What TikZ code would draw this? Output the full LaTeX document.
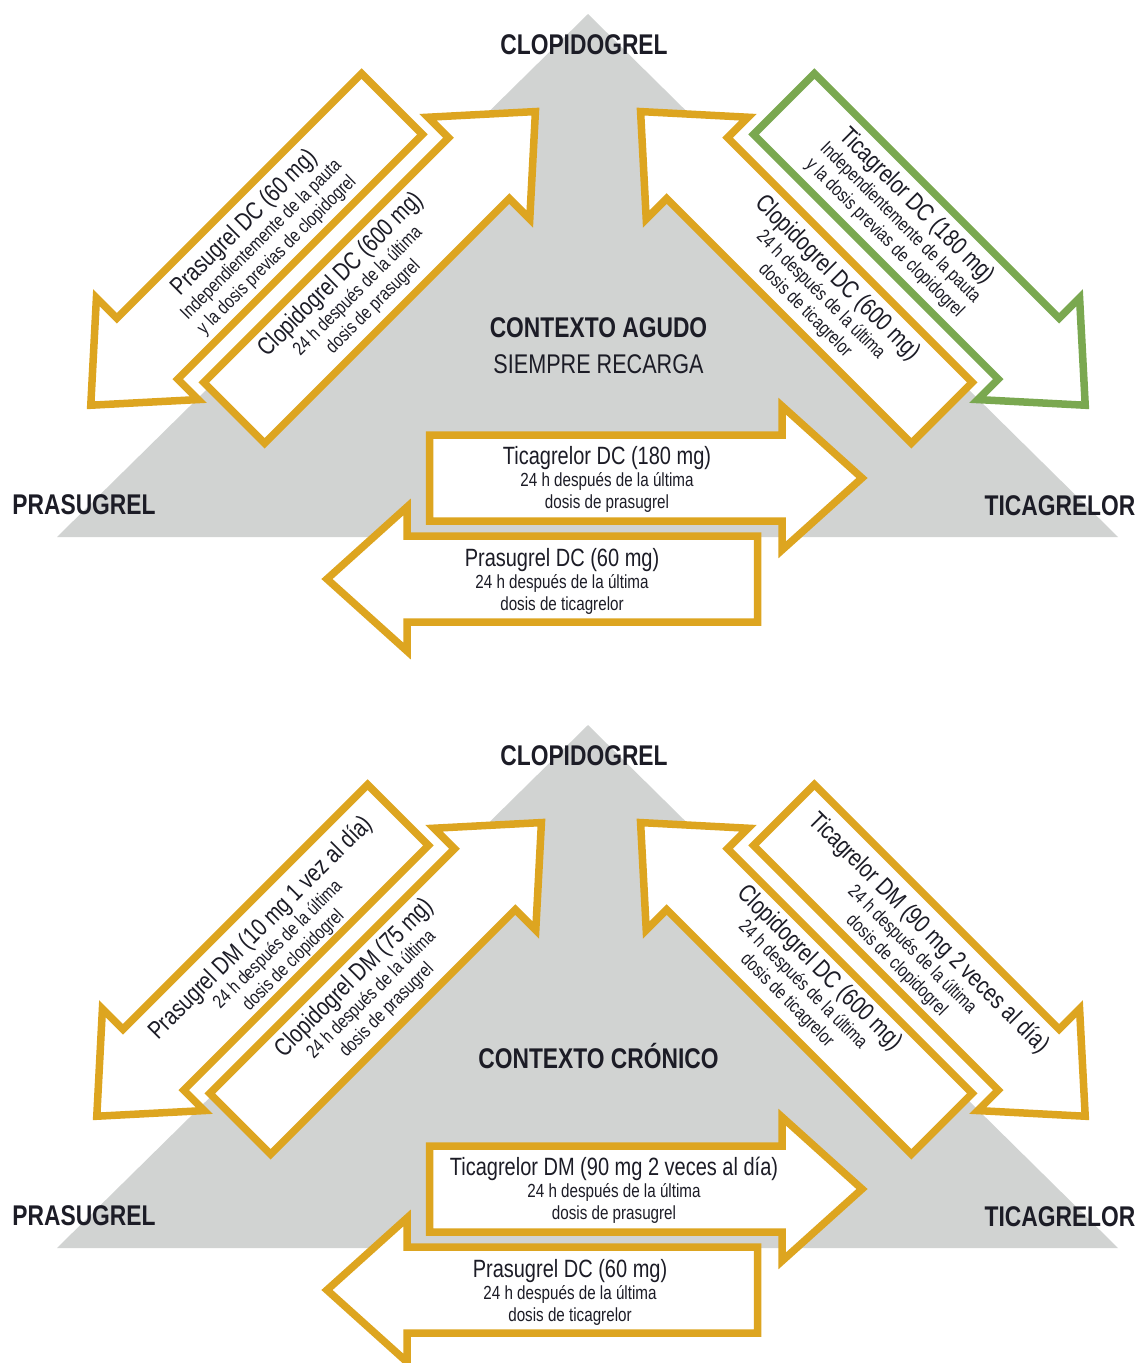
\documentclass[tikz,border=0pt]{standalone}
\usepackage{fontspec}
\setmainfont{Liberation Sans}[FakeStretch=0.8]
\usetikzlibrary{positioning}

\definecolor{gold}{RGB}{221,165,32}
\definecolor{leaf}{RGB}{122,168,80}
\definecolor{ash}{RGB}{209,211,210}
\definecolor{ink}{RGB}{28,28,38}

% block arrow: [colour]{tail}{angle}{length}
\newcommand{\blockarrow}[4][gold]{%
  \begin{scope}[shift={(#2)}, rotate=#3]
    \draw[line width=7.5pt, draw=#1, fill=white]
      (0,-43) -- (#4-80,-43) -- (#4-80,-72) -- (#4,0) -- (#4-80,72) -- (#4-80,43) -- (0,43) -- cycle;
  \end{scope}}
\newcommand{\firstline}[1]{{\fontsize{25}{26}\selectfont #1}}

\begin{document}
\begin{tikzpicture}[
    x=1pt, y=-1pt,
    corner/.style={font=\bfseries\fontsize{28.5}{30}\selectfont, text=ink, anchor=base, inner sep=0pt},
    context/.style={font=\fontsize{27}{30}\selectfont, text=ink, anchor=base, inner sep=0pt},
    dose/.style={font=\fontsize{19}{22}\selectfont, text=ink, align=center, inner sep=0pt}
]
\useasboundingbox (0,0) rectangle (1141,1363);

% acute context
\fill[ash] (588,14) -- (57,537) -- (1118,537) -- cycle;
\blockarrow{392,104}{225}{426}
\blockarrow{234.2,412.8}{45}{426}
\blockarrow[leaf]{784,104}{-45}{426}
\blockarrow{941.8,412.8}{135}{426}
\blockarrow{429.5,478}{0}{432.5}
\blockarrow{757.5,579}{180}{430.5}

\node[corner] (clopiA) at (584,54) {CLOPIDOGREL};
\node[corner] (prasA) at (84,514) {PRASUGREL};
\node[corner] (ticaA) at (1060,515) {TICAGRELOR};
\node[corner] (agudo) at (598.5,337) {CONTEXTO AGUDO};
\node[context] (recarga) at (598.5,373) {SIEMPRE RECARGA};

\node[dose, rotate=45] (pcA) at (260,238.5) {\firstline{Prasugrel DC (60 mg)}\\Independientemente de la pauta\\y la dosis previas de clopidogrel};
\node[dose, rotate=45] (cpA) at (356.5,290) {\firstline{Clopidogrel DC (600 mg)}\\24 h después de la última\\dosis de prasugrel};
\node[dose, rotate=-45] (tcA) at (901.5,221.5) {\firstline{Ticagrelor DC (180 mg)}\\Independientemente de la pauta\\y la dosis previas de clopidogrel};
\node[dose, rotate=-45] (ctA) at (822,293.5) {\firstline{Clopidogrel DC (600 mg)}\\24 h después de la última\\dosis de ticagrelor};
\node[dose] (ptA) at (607,479) {\firstline{Ticagrelor DC (180 mg)}\\24 h después de la última\\dosis de prasugrel};
\node[dose] (tpA) at (562,581) {\firstline{Prasugrel DC (60 mg)}\\24 h después de la última\\dosis de ticagrelor};

% chronic context
\fill[ash] (588,725) -- (57,1248) -- (1118,1248) -- cycle;
\blockarrow{398,815}{225}{426}
\blockarrow{240.2,1123.8}{45}{426}
\blockarrow{784,815}{-45}{426}
\blockarrow{941.8,1123.8}{135}{426}
\blockarrow{429.5,1189}{0}{432.5}
\blockarrow{757.5,1290}{180}{430.5}

\node[corner] (clopiB) at (584,765) {CLOPIDOGREL};
\node[corner] (prasB) at (84,1225) {PRASUGREL};
\node[corner] (ticaB) at (1060,1226) {TICAGRELOR};
\node[corner] (cronico) at (598.5,1068) {CONTEXTO CRÓNICO};

\node[dose, rotate=45] (pcB) at (276.5,943.5) {\firstline{Prasugrel DM (10 mg 1 vez al día)}\\24 h después de la última\\dosis de clopidogrel};
\node[dose, rotate=45] (cpB) at (370,993.5) {\firstline{Clopidogrel DM (75 mg)}\\24 h después de la última\\dosis de prasugrel};
\node[dose, rotate=-45] (tcB) at (913.5,948.5) {\firstline{Ticagrelor DM (90 mg 2 veces al día)}\\24 h después de la última\\dosis de clopidogrel};
\node[dose, rotate=-45] (ctB) at (804,983.5) {\firstline{Clopidogrel DC (600 mg)}\\24 h después de la última\\dosis de ticagrelor};
\node[dose] (ptB) at (614,1190) {\firstline{Ticagrelor DM (90 mg 2 veces al día)}\\24 h después de la última\\dosis de prasugrel};
\node[dose] (tpB) at (570,1292) {\firstline{Prasugrel DC (60 mg)}\\24 h después de la última\\dosis de ticagrelor};
\end{tikzpicture}
\end{document}
